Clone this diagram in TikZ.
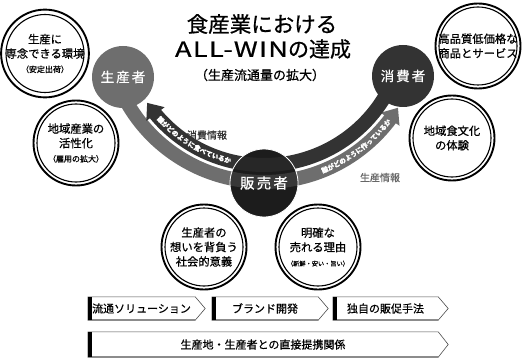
\documentclass[tikz,border=0pt]{standalone}
\usepackage{fontspec}
\setmainfont{Noto Sans CJK JP}[FakeBold=0.7]
\newfontfamily\widefont[FakeStretch=1.3,LetterSpace=6,FakeBold=0.7]{Noto Sans CJK JP}
\usetikzlibrary{arrows.meta,bending,decorations.text}

\definecolor{prodgray}{HTML}{6E6E6E}
\definecolor{consdark}{HTML}{333333}
\definecolor{selldark}{HTML}{1C1C1C}

\newcommand\subnote[1]{{\fontsize{8}{10}\selectfont #1}}

\tikzset{
  flowpath/.style={line width=14pt},
  flowband/.style={flowpath, -{Triangle[length=14pt,width=22pt,flex]}},
  flowtext/.style={decorate, decoration={text along path, text align=center,
      text color=white, raise=-2.4pt, text={#1}}}
}

\begin{document}
\begin{tikzpicture}[x=1pt, y=1pt,
    every node/.style={align=center, inner sep=0pt},
    actor/.style={circle, minimum size=62pt, text=white,
        font=\fontsize{13.5}{16}\selectfont\addfontfeatures{LetterSpace=15}},
    merit/.style={circle, draw=black, line width=1.9pt, minimum size=85pt,
        font=\fontsize{11.3}{14.5}\selectfont},
    headline/.style={font=\fontsize{21.5}{24}\selectfont},
    infolabel/.style={font=\fontsize{10}{12}\selectfont},
    stepbox/.style={minimum height=23pt, font=\fontsize{11}{13}\selectfont},
    boxline/.style={draw=black!70, line width=0.6pt},
    boxshade/.style={draw=black!45, line width=1.8pt},
    boxbar/.style={draw=black, line width=4pt}
]
\useasboundingbox (0,0) rectangle (526,359);

% flows between the actors
\coordinate (ctr) at (264,335);
\draw[flowband, prodgray] ([shift={(207:158)}]ctr) arc[start angle=207, end angle=328, radius=158];
\draw[flowband, consdark] ([shift={(333:141)}]ctr) arc[start angle=333, end angle=214, radius=141];
\path[flowtext={|\bfseries\fontsize{6.6}{7}\selectfont|誰がどのように食べているか}]
    ([shift={(220:141)}]ctr) arc[start angle=220, end angle=258, radius=141];
\path[flowtext={|\bfseries\fontsize{6.6}{7}\selectfont|誰がどのように作っているか}]
    ([shift={(289:158)}]ctr) arc[start angle=289, end angle=325, radius=158];

% actors
\node[actor, fill=prodgray] (prod) at (123,282) {生産者};
\node[actor, fill=consdark] (cons) at (403,283) {消費者};
\node[actor, fill=selldark, draw=white, line width=0.8pt, minimum size=68pt,
    font=\fontsize{14.5}{16}\selectfont\addfontfeatures{LetterSpace=15},
    path picture={
      \draw[flowpath, prodgray, opacity=0.35] ([shift={(240:158)}]ctr) arc[start angle=240, end angle=300, radius=158];
      \draw[flowpath, consdark, opacity=0.5] ([shift={(240:141)}]ctr) arc[start angle=240, end angle=300, radius=141];
    }] (sell) at (264,176) {販売者};

\node[infolabel, text=consdark] (consinfo) at (207,224) {消費情報};
\node[infolabel, text=black!60] (prodinfo) at (380,181.5) {生産情報};

% title
\node[headline] (head1) at (262,335) {食産業における};
\node[headline, font=\fontsize{21}{24}\selectfont] (head2) at (263,310) {{\widefont ALL-WIN}の達成};
\node[font=\fontsize{13}{15}\selectfont] (head3) at (260,284) {（生産流通量の拡大）};

% merits
\node[merit] (env) at (45,305.5) {生産に\\専念できる環境\\\subnote{（安定出荷）}};
\node[merit] (region) at (76,216) {地域産業の\\活性化\\\subnote{（雇用の拡大）}};
\node[merit] (quality) at (478,313) {高品質低価格な\\商品とサービス};
\node[merit] (foodcult) at (452,221) {地域食文化\\の体験};
\node[merit] (mission) at (204,112) {生産者の\\想いを背負う\\社会的意義};
\node[merit] (reason) at (318,112) {明確な\\売れる理由\\{\fontsize{6.2}{8}\selectfont （新鮮・安い・旨い）}};
\foreach \m in {env,region,quality,foodcult,mission,reason}
  \draw[line width=1.1pt] (\m.center) circle[radius=39];

% measures
\node[stepbox, minimum width=107pt] (sol) at (141.5,50.5) {流通ソリューション};
\node[stepbox, minimum width=106pt] (brand) at (265,50.5) {ブランド開発};
\node[stepbox, minimum width=105pt] (promo) at (385.5,50.5) {独自の販促手法};
\node[stepbox, minimum width=350pt, minimum height=25pt] (direct) at (263,14.5) {生産地・生産者との直接提携関係};
\foreach \b in {sol,brand,promo,direct}{
  \draw[boxline] (\b.north west) -- (\b.north east) -- ([xshift=10pt]\b.east)
      -- (\b.south east) -- (\b.south west) -- cycle;
  \draw[boxshade] (\b.south west) -- (\b.south east);
  \draw[boxbar] ([xshift=2pt]\b.north west) -- ([xshift=2pt]\b.south west);
}
\end{tikzpicture}
\end{document}
